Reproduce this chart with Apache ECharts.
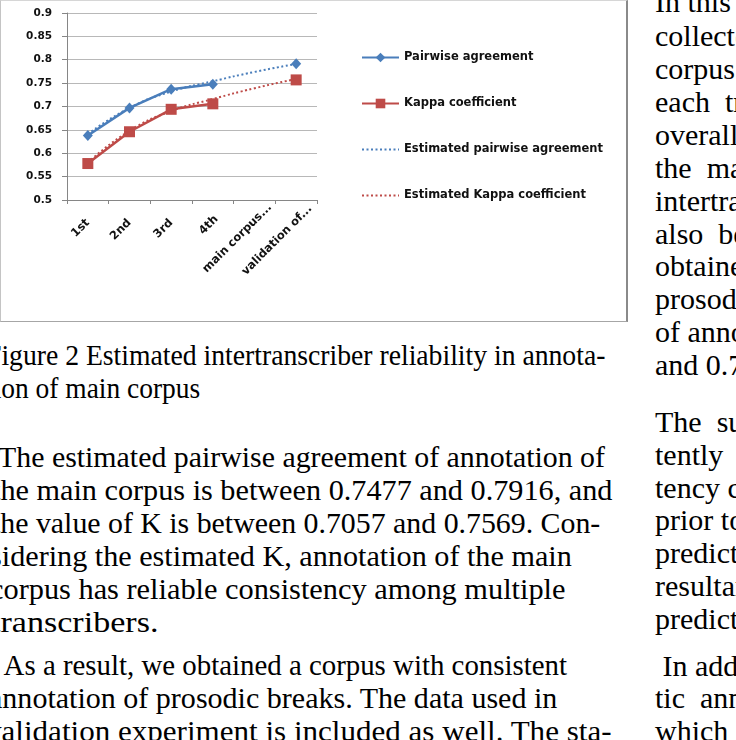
<!DOCTYPE html>
<html><head><meta charset="utf-8">
<script src="https://cdn.jsdelivr.net/npm/echarts@6/dist/echarts.min.js"></script>
<style>
html,body{margin:0;padding:0;background:#fff;}
body{width:736px;height:740px;overflow:hidden;position:relative;}
#chart{position:absolute;left:0;top:0;width:628px;height:322px;}
#frame{position:absolute;left:0;top:0;width:628px;height:322px;box-sizing:border-box;border-left:1px solid #c4c4c4;border-top:1px solid #d6d6d6;border-right:2px solid #8a8a8a;border-bottom:1px solid #a6a6a6;pointer-events:none;}
.ln{position:absolute;white-space:pre;font-family:"Liberation Serif","Times New Roman",serif;font-size:30px;line-height:33px;color:#000;transform-origin:0 0;}
</style></head>
<body>
<div id="chart"></div>
<div id="frame"></div>
<script>
// ---- chart data ----
const categories = ['1st', '2nd', '3rd', '4th', 'main corpus...', 'validation of...'];
const pairwise = [0.638, 0.697, 0.737, 0.7477, null, 0.7916];
const kappa = [0.578, 0.646, 0.694, 0.7057, null, 0.7569];
const estPairwise = [0.641, 0.697, 0.732, 0.754, 0.774, 0.791];
const estKappa = [0.580, 0.648, 0.690, 0.716, 0.739, 0.759];
const seriesNames = ['Pairwise agreement', 'Kappa coefficient', 'Estimated pairwise agreement', 'Estimated Kappa coefficient'];
const yMin = 0.5, yMax = 0.9, yStep = 0.05;

// ---- page text: [hidden prefix, visible text] ----
const leftCaption = [
  ['F', 'igure 2 Estimated intertranscriber reliability in annota-'],
  ['ti', 'on of main corpus']
];
const leftBody = [
  ['', 'The estimated pairwise agreement of annotation of'],
  ['t', 'he main corpus is between 0.7477 and 0.7916, and'],
  ['t', 'he value of K is between 0.7057 and 0.7569. Con-'],
  ['s', 'idering the estimated K, annotation of the main'],
  ['c', 'orpus has reliable consistency among multiple'],
  ['t', 'ranscribers.'],
  ['', ' As a result, we obtained a corpus with consistent'],
  ['a', 'nnotation of prosodic breaks. The data used in'],
  ['v', 'alidation experiment is included as well. The sta-']
];
const rightCol = [
  'In this', 'collected', 'corpus', 'each  transcriber', 'overall', 'the  main',
  'intertranscriber', 'also  be', 'obtained', 'prosodic', 'of annotation', 'and 0.7',
  'The  subsequent', 'tently', 'tency compared', 'prior to', 'prediction', 'resultant', 'prediction',
  ' In addition', 'tic  annotation', 'which'
];

// layout of the text lines (visible start x, visible end x, baseline y)
const capLayout = [[1, 605, 365], [1, 200, 398]];
const bodyLayout = [[-2, 605, 467], [0, 612, 500], [0, 600, 533], [2, 572, 566], [3, 565, 599],
                    [0, 158, 632], [-2, 567, 675], [2, 557, 708], [2, 612, 741]];
const rightBase = [12, 46, 79, 112, 145, 178, 211, 244, 276, 309, 342, 375, 432, 465, 498, 530, 563, 596, 629, 676, 708, 741];

function fitLine(pre, txt, vx, rx, baseline) {
  const d = document.createElement('div');
  d.className = 'ln';
  const a = document.createElement('span'); a.textContent = pre;
  const b = document.createElement('span'); b.textContent = txt;
  d.appendChild(a); d.appendChild(b);
  d.style.left = '0px';
  d.style.top = (baseline - 26.6) + 'px';
  document.body.appendChild(d);
  const wp = a.getBoundingClientRect().width;
  const wt = b.getBoundingClientRect().width;
  const s = (rx - vx) / wt;
  d.style.transform = 'scaleX(' + s + ')';
  d.style.left = (vx - wp * s) + 'px';
}
function addLine(text, x, baseline) {
  const d = document.createElement('div');
  d.className = 'ln';
  d.textContent = text;
  d.style.left = x + 'px';
  d.style.top = (baseline - 26.6) + 'px';
  document.body.appendChild(d);
}
leftCaption.forEach((t, i) => fitLine(t[0], t[1], capLayout[i][0], capLayout[i][1], capLayout[i][2]));
leftBody.forEach((t, i) => fitLine(t[0], t[1], bodyLayout[i][0], bodyLayout[i][1], bodyLayout[i][2]));
rightCol.forEach((t, i) => addLine(t, 655, rightBase[i]));

// ---- chart ----
const blue = '#4A7EBB', red = '#BE4B48';
const tickFont = { fontFamily: 'DejaVu Sans', fontWeight: 'bold', fontSize: 10.5, color: '#111' };
const catFont = { fontFamily: 'DejaVu Sans', fontWeight: 'bold', fontSize: 11.5, color: '#111' };
const labelShift = [0, 0, 0, -5, -22, -20];   // extra slide of each rotated label along its direction
const chart = echarts.init(document.getElementById('chart'), null, { renderer: 'canvas' });
chart.setOption({
  animation: false,
  backgroundColor: '#fff',
  grid: { left: 67, top: 13, width: 250, height: 187, containLabel: false, outerBoundsMode: 'none' },
  xAxis: {
    type: 'category', boundaryGap: true,
    data: categories.map((c, i) => ({ value: c, textStyle: { padding: [0, labelShift[i], 0, 0] } })),
    axisLine: { lineStyle: { color: '#868686', width: 1 } },
    axisTick: { show: true, length: 4, lineStyle: { color: '#868686' } },
    axisLabel: Object.assign({ rotate: 45, margin: 21, interval: 0 }, catFont),
    splitLine: { show: false }
  },
  yAxis: {
    type: 'value', min: yMin, max: yMax, interval: yStep,
    axisLine: { show: true, lineStyle: { color: '#868686', width: 1 } },
    axisTick: { show: true, length: 5, lineStyle: { color: '#868686' } },
    splitLine: { show: true, lineStyle: { color: '#B8B8B8', width: 1 } },
    axisLabel: Object.assign({ margin: 15 }, tickFont)
  },
  legend: {
    orient: 'vertical', left: 361, top: 51.5, padding: 0,
    itemWidth: 37, itemHeight: 12, itemGap: 34,
    textStyle: catFont,
    data: [
      { name: seriesNames[0] },
      { name: seriesNames[1] },
      { name: seriesNames[2], itemStyle: { opacity: 0, color: 'rgba(0,0,0,0)', borderColor: 'rgba(0,0,0,0)' } },
      { name: seriesNames[3], itemStyle: { opacity: 0, color: 'rgba(0,0,0,0)', borderColor: 'rgba(0,0,0,0)' } }
    ]
  },
  series: [
    { name: seriesNames[0], type: 'line', data: pairwise, connectNulls: false,
      symbol: 'diamond', symbolSize: [10, 11],
      lineStyle: { color: blue, width: 2.5 }, itemStyle: { color: blue }, z: 3 },
    { name: seriesNames[1], type: 'line', data: kappa, connectNulls: false,
      symbol: 'rect', symbolSize: 11,
      lineStyle: { color: red, width: 2.5 }, itemStyle: { color: red }, z: 3 },
    { name: seriesNames[2], type: 'line', data: estPairwise, smooth: true, symbol: 'none',
      lineStyle: { color: blue, width: 2, type: [2, 2.5] }, itemStyle: { color: blue }, z: 4 },
    { name: seriesNames[3], type: 'line', data: estKappa, smooth: true, symbol: 'none',
      lineStyle: { color: red, width: 2, type: [2, 2.5] }, itemStyle: { color: red }, z: 4 }
  ]
});
</script>
</body></html>
